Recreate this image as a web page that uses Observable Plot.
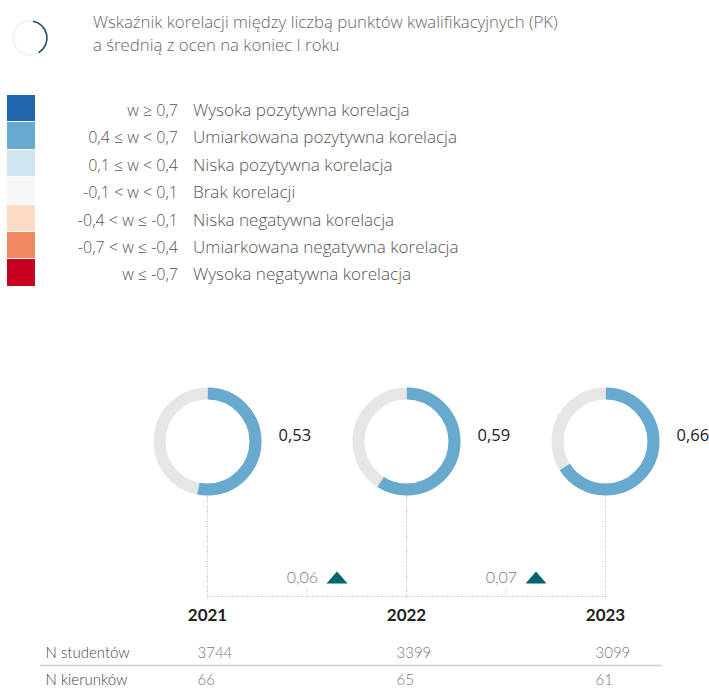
<!DOCTYPE html>
<html>
<head>
<meta charset="utf-8">
<script src="https://cdn.jsdelivr.net/npm/d3@7"></script>
<script src="https://cdn.jsdelivr.net/npm/@observablehq/plot@0.6"></script>
<style>
  html, body { margin: 0; padding: 0; background: #fff; }
  body { width: 709px; height: 688px; position: relative; overflow: hidden; font-family: "Open Sans", Lato, sans-serif; }
  #icon { position: absolute; left: 0; top: 0; }
  #title { position: absolute; left: 93px; top: 10px; font-size: 16.8px; line-height: 23px; color: #666; font-weight: 300; white-space: nowrap; }
  #legend { position: absolute; left: 7px; top: 95px; }
  .row { position: relative; height: 27.4px; }
  .sw { position: absolute; left: 0; top: 0; width: 28px; height: 26.4px; }
  .cond { position: absolute; left: 0; width: 171px; text-align: right; top: 4px; font-size: 16px; color: #555; font-weight: 300; }
  .lab { position: absolute; left: 186px; top: 3px; font-size: 17.1px; color: #555; font-weight: 300; white-space: nowrap; }
  #chart { position: absolute; left: 0; top: 340px; }
</style>
</head>
<body>
<svg id="icon" width="60" height="60">
  <circle cx="30" cy="38" r="17" fill="none" stroke="#eeeeee" stroke-width="1.5"></circle>
  <path d="M32.95,21.26 A17,17 0 0 1 38.5,52.72" fill="none" stroke="#1f4e79" stroke-width="1.6"></path>
</svg>
<div id="title">Wskaźnik korelacji między liczbą punktów kwalifikacyjnych (PK)<br>a średnią z ocen na koniec I roku</div>
<div id="legend"></div>
<div id="chart"></div>
<script>
// ---- data ----
const years = [2021, 2022, 2023];
const correlations = [0.53, 0.59, 0.66];
const changes = [0.06, 0.07];
const nStudents = [3744, 3399, 3099];
const nPrograms = [66, 65, 61];
const tableLabels = ["N studentów", "N kierunków"];

const legendRanges = ["w ≥ 0,7", "0,4 ≤ w < 0,7", "0,1 ≤ w < 0,4", "-0,1 < w < 0,1", "-0,4 < w ≤ -0,1", "-0,7 < w ≤ -0,4", "w ≤ -0,7"];
const legendLabels = ["Wysoka pozytywna korelacja", "Umiarkowana pozytywna korelacja", "Niska pozytywna korelacja", "Brak korelacji", "Niska negatywna korelacja", "Umiarkowana negatywna korelacja", "Wysoka negatywna korelacja"];
const legendColors = ["#2166ac", "#67a9cf", "#d1e5f0", "#f7f7f7", "#fddbc7", "#ef8a62", "#ca0020"];
const thresholds = [-0.7, -0.4, -0.1, 0.1, 0.4, 0.7];

// ---- legend (HTML) ----
const leg = document.getElementById("legend");
legendLabels.forEach((lab, i) => {
  const r = document.createElement("div");
  r.className = "row";
  r.innerHTML = `<div class="sw" style="background:${legendColors[i]}"></div><div class="cond">${legendRanges[i]}</div><div class="lab">${lab}</div>`;
  leg.appendChild(r);
});

// ---- chart ----
const fmt = v => d3.format(".2f")(v).replace(".", ",");
const rows = years.map((y, i) => ({year: y, corr: correlations[i], students: nStudents[i], programs: nPrograms[i]}));
const deltas = changes.map((c, i) => ({mid: (years[i] + years[i + 1]) / 2, change: c}));

const H = 348;
const Lay = {ringY: 101, ringBottom: 156, axis: 256, lineEnd: 259, deltaY: 237, yearY: 275, stud: 313, rule: 325, prog: 340};
const R = 48, C = 2 * Math.PI * R;
const triangle = {draw(ctx) { ctx.moveTo(-10.5, 6); ctx.lineTo(0, -6); ctx.lineTo(10.5, 6); ctx.closePath(); }};

const plot = Plot.plot({
  width: 709, height: H, margin: 0,
  style: {fontFamily: "Lato, 'Open Sans', sans-serif", fontSize: "16px", background: "transparent", overflow: "visible"},
  x: {domain: [years[0], years[years.length - 1]], range: [207, 605], axis: null},
  y: {domain: [0, H], range: [0, H], axis: null},
  color: {type: "threshold", domain: thresholds, range: legendColors.slice().reverse()},
  marks: [
    Plot.ruleX(rows, {x: "year", y1: () => Lay.ringBottom, y2: () => Lay.lineEnd, stroke: "#aaa", strokeDasharray: "1,1.5", strokeWidth: 0.8}),
    Plot.ruleY([Lay.axis], {x1: () => years[0], x2: () => years[years.length - 1], y: d => d, stroke: "#aaa", strokeDasharray: "1,1.5", strokeWidth: 0.8}),
    Plot.ruleX(deltas, {x: "mid", y1: () => Lay.axis - 8, y2: () => Lay.axis, stroke: "#aaa", strokeDasharray: "1,1.5", strokeWidth: 0.8}),
    Plot.dot(rows, {x: "year", y: () => Lay.ringY, r: R, stroke: "#e6e6e6", strokeWidth: 12, fill: "none"}),
    ...rows.map(d => Plot.dot([d], {x: "year", y: () => Lay.ringY, r: R, stroke: "corr", strokeWidth: 12, fill: "none",
      strokeDasharray: `${d.corr * C} ${C - d.corr * C}`, strokeDashoffset: C * 0.25})),
    Plot.text(rows, {x: "year", y: () => Lay.ringY - 6, dx: 71, text: d => fmt(d.corr), textAnchor: "start", fontSize: 16.5, fill: "#222", fontFamily: "'Open Sans', sans-serif", fontWeight: 400}),
    Plot.text(deltas, {x: "mid", y: () => Lay.deltaY, dx: 11, text: d => fmt(d.change), textAnchor: "end", fill: "#777", fontWeight: 300}),
    Plot.dot(deltas, {x: "mid", y: () => Lay.deltaY, dx: 30, symbol: triangle, r: 7, fill: "#00666e", stroke: "none"}),
    Plot.text(rows, {x: "year", y: () => Lay.yearY, text: d => String(d.year), fontSize: 17, fontWeight: 700, fill: "#222"}),
    Plot.text([tableLabels[0]], {frameAnchor: "left", dx: 45, y: () => Lay.stud, text: d => d, textAnchor: "start", fill: "#444", fontSize: 15, fontWeight: 300}),
    Plot.text([tableLabels[1]], {frameAnchor: "left", dx: 45, y: () => Lay.prog, text: d => d, textAnchor: "start", fill: "#444", fontSize: 15, fontWeight: 300}),
    Plot.text(rows, {x: "year", y: () => Lay.stud, dx: -10, text: d => String(d.students), textAnchor: "start", fill: "#777", fontSize: 15, fontWeight: 300}),
    Plot.text(rows, {x: "year", y: () => Lay.prog, dx: -10, text: d => String(d.programs), textAnchor: "start", fill: "#777", fontSize: 15, fontWeight: 300}),
    Plot.ruleY([Lay.rule], {y: d => d, insetLeft: 40, insetRight: 47, stroke: "#ccc", strokeWidth: 1.5})
  ]
});
document.getElementById("chart").appendChild(plot);
</script>
</body>
</html>
